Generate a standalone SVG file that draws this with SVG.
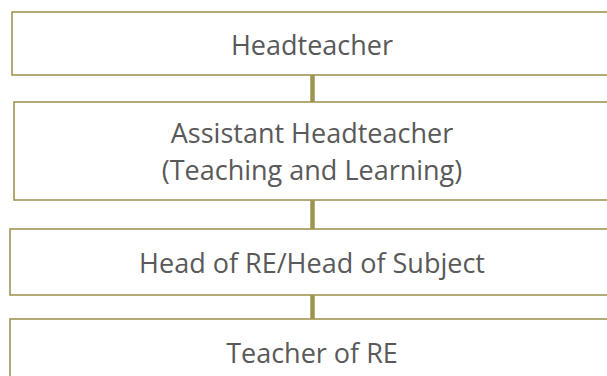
<svg xmlns="http://www.w3.org/2000/svg" width="607" height="376" viewBox="0 0 607 376">
<style>
.box{fill:#ffffff;stroke:#a09552;stroke-width:1.6}
.lbl{font-family:"Open Sans","Noto Sans","Liberation Sans",sans-serif;font-size:27px;fill:#595959;text-anchor:middle}
.con{stroke:#9e9350;stroke-width:4.5;fill:none}
</style>
<rect width="607" height="376" fill="#ffffff"/>
<g id="connectors">
<line class="con" x1="312.5" y1="75" x2="312.5" y2="102"/>
<line class="con" x1="312.5" y1="200" x2="312.5" y2="229"/>
<line class="con" x1="312.5" y1="295" x2="312.5" y2="319"/>
</g>
<g id="headteacher">
<rect class="box" x="12" y="12" width="620" height="63"/>
<text class="lbl" x="312" y="55">Headteacher</text>
</g>
<g id="assistant-headteacher">
<rect class="box" x="14" y="102" width="620" height="98"/>
<text class="lbl" x="312" y="143">Assistant Headteacher</text>
<text class="lbl" x="312" y="180">(Teaching and Learning)</text>
</g>
<g id="head-of-re">
<rect class="box" x="10" y="229" width="620" height="66"/>
<text class="lbl" x="312" y="273">Head of RE/Head of Subject</text>
</g>
<g id="teacher-of-re">
<rect class="box" x="10" y="319" width="620" height="80"/>
<text class="lbl" x="312" y="363">Teacher of RE</text>
</g>
</svg>
